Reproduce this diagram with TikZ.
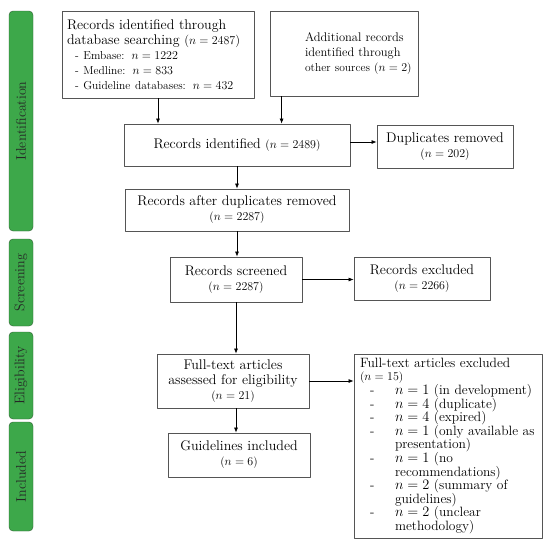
\documentclass[tikz,border=0pt]{standalone}
\usepackage{fontspec}
\usetikzlibrary{arrows.meta,positioning}
\definecolor{stagegreen}{HTML}{3DA84A}
\definecolor{stageedge}{HTML}{2F5F33}
\definecolor{boxedge}{HTML}{555555}
\newcommand{\mainfs}{\fontsize{14}{15}\selectfont}
\newcommand{\subfs}{\fontsize{11.5}{13}\selectfont}
\newcommand{\stagefs}{\fontsize{14}{14}\selectfont}
\newcommand{\cnt}[1]{{\subfs($n = #1$)}}
\newcommand{\itm}{\makebox[35pt][l]{\hspace*{10pt}-}}
\newcommand{\cont}{\hspace*{35pt}}
\begin{document}
\begin{tikzpicture}[x=1pt,y=-1pt,line join=round,
	box/.style={draw=boxedge,line width=.8pt,inner sep=0pt,align=center,font=\mainfs},
	stage/.style={draw=stageedge,fill=stagegreen,rounded corners=4pt,rotate=90,minimum height=24pt,inner sep=0pt,font=\stagefs,text=black!85},
	arr/.style={-{Latex[length=5pt,width=4pt]},line width=.7pt}]
	\useasboundingbox (0,0) rectangle (550,547);
	% stage bars
	\node[stage,minimum width=220pt] (ident) at (21,121) {Identification};
	\node[stage,minimum width=87pt] (screen) at (21,282.5) {Screening};
	\node[stage,minimum width=87pt] (elig) at (21,375.5) {Eligibility};
	\node[stage,minimum width=109pt] (incl) at (21,476.5) {Included};
	% boxes
	\node[box,minimum width=192pt,minimum height=87pt,text width=182pt,align=left] (dbsearch) at (158,54.5) {Records identified through\\
		database searching {\fontsize{12.5}{15}\selectfont($n = 2487$)}\\
		{\subfs\hspace*{8pt}- Embase: $n = 1222$}\\
		{\subfs\hspace*{8pt}- Medline: $n = 833$}\\
		{\subfs\hspace*{8pt}- Guideline databases: $n = 432$}};
	\node[box,minimum width=148pt,minimum height=85pt,text width=146pt,align=left,font=\fontsize{12.5}{15}\selectfont] (addl) at (344,53.5) {\hspace*{34pt}Additional records\\
		\hspace*{34pt}identified through\\
		\hspace*{34pt}{\subfs other sources} \cnt{2}};
	\node[box,minimum width=226pt,minimum height=42pt] (recid) at (237,145) {Records identified \cnt{2489}};
	\node[box,minimum width=136pt,minimum height=43pt] (dupl) at (445,146.5) {Duplicates removed\\ \cnt{202}};
	\node[box,minimum width=224pt,minimum height=42pt] (recafter) at (237,210) {Records after duplicates removed\\ \cnt{2287}};
	\node[box,minimum width=132pt,minimum height=45pt] (screened) at (236,279.5) {Records screened\\ \cnt{2287}};
	\node[box,minimum width=136pt,minimum height=43pt] (recexcl) at (422,278.5) {Records excluded\\ \cnt{2266}};
	\node[box,minimum width=152pt,minimum height=54pt] (fulltext) at (233,381) {Full-text articles\\ assessed for eligibility\\ \cnt{21}};
	\node[box,minimum width=142pt,minimum height=44pt] (guide) at (239,455) {Guidelines included\\ \cnt{6}};
	\node[box,minimum width=188pt,minimum height=184pt,text width=176pt,align=left,font=\fontsize{13.5}{13.6}\selectfont] (ftexcl) at (448,446) {Full-text articles excluded\\
		\cnt{15}\\
		\itm$n = 1$ (in development)\\
		\itm$n = 4$ (duplicate)\\
		\itm$n = 4$ (expired)\\
		\itm$n = 1$ (only available as\\
		\cont presentation)\\
		\itm$n = 1$ (no\\
		\cont recommendations)\\
		\itm$n = 2$ (summary of\\
		\cont guidelines)\\
		\itm$n = 2$ (unclear\\
		\cont methodology)};
	% arrows
	\draw[arr] (dbsearch.south) -- (dbsearch.south |- recid.north);
	\draw[arr] ([xshift=12pt]addl.south west) -- ([xshift=12pt]addl.south west |- recid.north);
	\draw[arr] ([yshift=3pt]recid.east) -- ([yshift=3pt]recid.east -| dupl.west);
	\draw[arr] (recid.south) -- (recafter.north);
	\draw[arr] (recafter.south) -- (recafter.south |- screened.north);
	\draw[arr] (screened.east) -- (screened.east -| recexcl.west);
	\draw[arr] (screened.south) -- (screened.south |- fulltext.north);
	\draw[arr] (fulltext.east) -- (fulltext.east -| ftexcl.west);
	\draw[arr] (screened.south |- fulltext.south) -- (screened.south |- guide.north);
\end{tikzpicture}
\end{document}
